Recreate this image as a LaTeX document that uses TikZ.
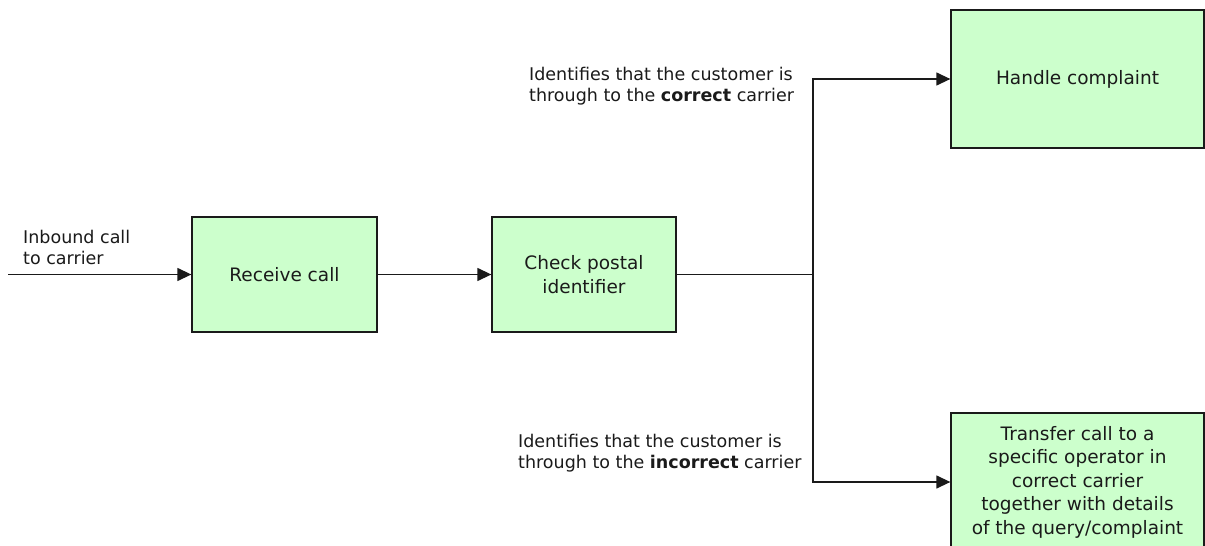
\documentclass[tikz,border=0pt]{standalone}
\usepackage{fontspec}
\setmainfont{DejaVu Sans}
\usetikzlibrary{arrows.meta}
\definecolor{boxfill}{HTML}{CCFFCC}
\definecolor{inkline}{HTML}{1A1A1A}
\tikzset{
  procbox/.style={draw=inkline, fill=boxfill, line width=1.3pt, inner sep=2pt,
    align=center, text=inkline, font=\fontsize{18.5}{23.5}\selectfont},
  note/.style={align=left, inner sep=0pt, anchor=west, text=inkline,
    font=\fontsize{17.5}{21}\selectfont},
  link/.style={draw=inkline, line width=1.3pt},
  flow/.style={link, -{Triangle[length=14pt,width=13pt]}}
}
\begin{document}
\begin{tikzpicture}[x=1pt,y=-1pt]
  \clip (0,0) rectangle (1205,546);
  \fill[white] (0,0) rectangle (1205,546);

  % process boxes
  \node[procbox, minimum width=185pt, minimum height=115pt] (recv)  at (284.5,274.5) {Receive call};
  \node[procbox, minimum width=184pt, minimum height=115pt] (check) at (584,274.5) {Check postal\\identifier};
  \node[procbox, minimum width=253pt, minimum height=138pt] (handle) at (1077.5,79) {Handle complaint};
  \node[procbox, minimum width=253pt, minimum height=138pt] (transfer) at (1077.5,482)
    {Transfer call to a\\specific operator in\\correct carrier\\together with details\\of the query/complaint};

  % annotations
  \node[note] (inlbl)  at (23,247.5) {Inbound call\\to carrier};
  \node[note] (oklbl)  at (529,86)   {Identifies that the customer is\\through to the \textbf{correct} carrier};
  \node[note] (badlbl) at (518,453)  {Identifies that the customer is\\through to the \textbf{incorrect} carrier};

  % connectors
  \coordinate (start) at (8,274.5);
  \coordinate (split) at (813,274.5);
  \draw[flow] (start) -- (recv);
  \draw[flow] (recv) -- (check);
  \draw[link] (check.east) -- (split);
  \draw[flow] (split) |- (handle.west);
  \draw[flow] (split) |- (transfer.west);
\end{tikzpicture}
\end{document}
